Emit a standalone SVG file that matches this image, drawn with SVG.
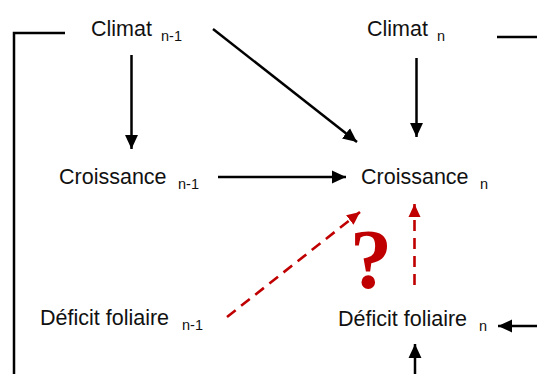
<svg xmlns="http://www.w3.org/2000/svg" width="537" height="374" viewBox="0 0 537 374">
<style>
.t{font-family:"Liberation Sans",Arial,sans-serif;font-size:21.5px;fill:#111}
.s{font-family:"Liberation Sans",Arial,sans-serif;font-size:14.5px;fill:#111}
.k{stroke:#000;stroke-width:2.5;fill:none}
.r{stroke:#C00000;stroke-width:2.6;fill:none;stroke-dasharray:11 7}
</style>
<defs>
<marker id="ak" markerUnits="userSpaceOnUse" markerWidth="14" markerHeight="14" viewBox="0 0 13 13" refX="13" refY="6.5" orient="auto"><path d="M0,0.5 L13,6.5 L0,12.5 Z" fill="#000"/></marker>
<marker id="ar" markerUnits="userSpaceOnUse" markerWidth="13" markerHeight="13" viewBox="0 0 13 13" refX="13" refY="6.5" orient="auto"><path d="M0,0.5 L13,6.5 L0,12.5 Z" fill="#C00000"/></marker>
</defs>
<rect width="537" height="374" fill="#fff"/>
<g id="connectors">
<polyline class="k" points="65,33 14,33 14,374" stroke-width="2.8"/>
<line class="k" x1="497" y1="37" x2="537" y2="37"/>
<line class="k" x1="131.5" y1="55" x2="131.5" y2="149" marker-end="url(#ak)"/>
<line class="k" x1="213" y1="29" x2="357" y2="142" marker-end="url(#ak)"/>
<line class="k" x1="416.5" y1="58" x2="416.5" y2="137" marker-end="url(#ak)"/>
<line class="k" x1="218" y1="177" x2="346" y2="177" marker-end="url(#ak)"/>
<line class="k" x1="537" y1="326" x2="498" y2="326" marker-end="url(#ak)"/>
<line class="k" x1="415" y1="374" x2="415" y2="344" marker-end="url(#ak)"/>
<line class="r" x1="227" y1="317" x2="360" y2="212" marker-end="url(#ar)"/>
<line class="r" x1="414.5" y1="285" x2="414.5" y2="204" marker-end="url(#ar)"/>
<text x="371" y="288" text-anchor="middle" font-family="'Liberation Serif','Times New Roman',serif" font-weight="bold" font-size="84" fill="#C00000">?</text>
</g>
<g id="climat-n1"><text class="t" x="91" y="36">Climat</text><text class="s" x="161" y="41">n-1</text></g>
<g id="climat-n"><text class="t" x="367" y="36">Climat</text><text class="s" x="437" y="41">n</text></g>
<g id="croissance-n1"><text class="t" x="59" y="184">Croissance</text><text class="s" x="178" y="189">n-1</text></g>
<g id="croissance-n"><text class="t" x="361" y="184">Croissance</text><text class="s" x="480" y="189">n</text></g>
<g id="deficit-n1"><text class="t" x="40" y="325">Déficit foliaire</text><text class="s" x="182" y="330">n-1</text></g>
<g id="deficit-n"><text class="t" x="338" y="326">Déficit foliaire</text><text class="s" x="479" y="331">n</text></g>
</svg>
